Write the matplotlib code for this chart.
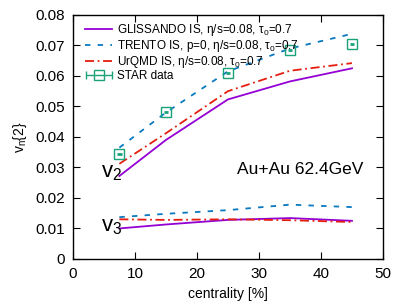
import matplotlib
matplotlib.use('Agg')
import matplotlib.pyplot as plt
from matplotlib.container import ErrorbarContainer
from matplotlib.legend_handler import HandlerErrorbar

plt.rcParams['font.family'] = ['Liberation Sans', 'DejaVu Sans']
plt.rcParams['mathtext.fontset'] = 'custom'
plt.rcParams['mathtext.rm'] = 'Liberation Sans'
plt.rcParams['mathtext.it'] = 'Liberation Sans'

# centrality bins
cent = [7.5, 15, 25, 35, 45]

# v2 curves
v2_gliss = [0.0272, 0.0390, 0.0523, 0.0582, 0.0625]
v2_trento = [0.0365, 0.0480, 0.0615, 0.0690, 0.0738]
v2_urqmd = [0.0312, 0.0412, 0.0550, 0.0617, 0.0642]

# v3 curves
v3_gliss = [0.0100, 0.0113, 0.0128, 0.0134, 0.0125]
v3_trento = [0.0137, 0.0148, 0.0160, 0.0178, 0.0170]
v3_urqmd = [0.0130, 0.0128, 0.0130, 0.0127, 0.0121]

# STAR data
star_v2 = [0.0344, 0.0481, 0.0611, 0.0684, 0.0706]
star_xerr = [0.35, 0.35, 0.35, 0.35, 0.35]

purple = '#9400d3'
blue = '#0a79c0'
red = '#e51e10'
green = '#1aa37a'

fig = plt.figure(figsize=(4.07, 3.05), dpi=100)
ax = fig.add_axes([0.179, 0.151, 0.762, 0.800])

ax.plot(cent, v2_gliss, color=purple, lw=1.3,
        label='GLISSANDO IS, η/s=0.08, τ$_0$=0.7')
ax.plot(cent, v2_trento, color=blue, lw=1.3, ls=(0, (3, 4)),
        label='TRENTO IS, p=0, η/s=0.08, τ$_0$=0.7')
ax.plot(cent, v2_urqmd, color=red, lw=1.3, ls=(0, (5, 2, 1, 2)),
        label='UrQMD IS, η/s=0.08, τ$_0$=0.7')
ax.errorbar(cent, star_v2, xerr=star_xerr, fmt='s', ms=7, mew=1.0,
            mfc='none', mec=green, ecolor=green, elinewidth=2.0, capsize=0)
# legend proxy with caps, placed outside the visible range
ax.errorbar([-10], [0.05], xerr=[1], fmt='s', ms=7, mew=1.0, mfc='none', mec=green,
            ecolor=green, elinewidth=1.0, capsize=3, label='STAR data')

ax.plot(cent, v3_gliss, color=purple, lw=1.3)
ax.plot(cent, v3_trento, color=blue, lw=1.3, ls=(0, (3, 4)))
ax.plot(cent, v3_urqmd, color=red, lw=1.3, ls=(0, (5, 2, 1, 2)))

ax.text(4.5, 0.0285, r'v$_2$', fontsize=16, va='center')
ax.text(4.5, 0.0105, r'v$_3$', fontsize=16, va='center')
ax.text(46.9, 0.0292, 'Au+Au 62.4GeV', fontsize=12.5, ha='right', va='center')

ax.set_xlim(0, 50)
ax.set_ylim(0, 0.08)
ax.set_xticks([0, 10, 20, 30, 40, 50])
ax.set_yticks([0, 0.01, 0.02, 0.03, 0.04, 0.05, 0.06, 0.07, 0.08])
ax.set_yticklabels(['0', '0.01', '0.02', '0.03', '0.04', '0.05', '0.06', '0.07', '0.08'])
ax.tick_params(direction='in', top=True, right=True, length=5, labelsize=11, pad=6)
ax.set_xlabel('centrality [%]', fontsize=10)
ax.set_ylabel(r'v$_\mathregular{n}${2}', fontsize=10)
for s in ax.spines.values():
    s.set_linewidth(1.0)

ax.legend(loc='upper left', fontsize=8.5, frameon=False, handlelength=2.3,
          labelspacing=0.0, borderaxespad=0.0, borderpad=0.4,
          handletextpad=0.4, bbox_to_anchor=(0.025, 0.99),
          handler_map={ErrorbarContainer: HandlerErrorbar(xerr_size=1.1)})

plt.savefig('out.png', dpi=100)
